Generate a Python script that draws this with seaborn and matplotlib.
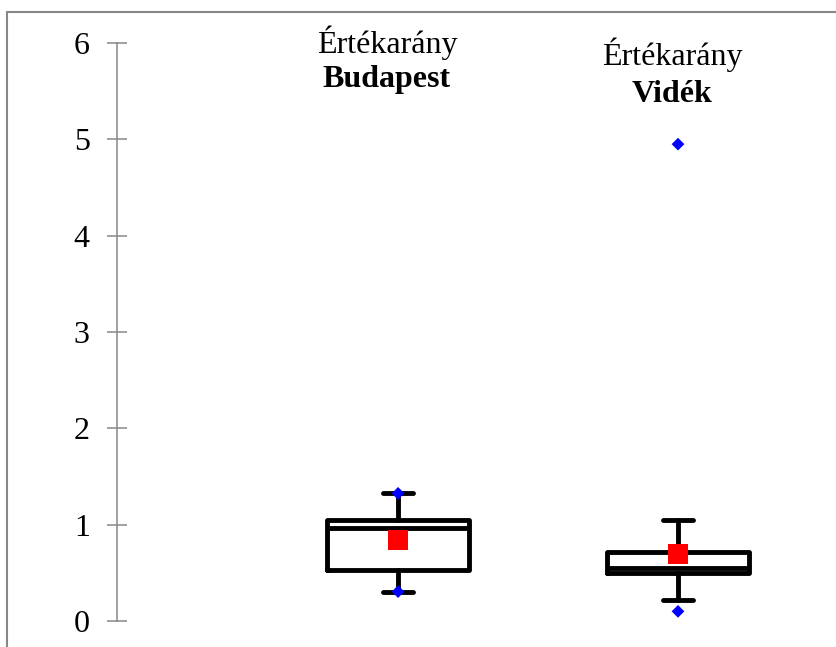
import numpy as np
import pandas as pd
import seaborn as sns
import matplotlib
matplotlib.use("Agg")
import matplotlib.pyplot as plt
from matplotlib.lines import Line2D

# ---- data ----
groups = ["Budapest", "Vidék"]
q1 = [0.53, 0.50]
median = [0.965, 0.545]
q3 = [1.045, 0.72]
whisker_low = [0.305, 0.22]
whisker_high = [1.325, 1.05]
means = [0.84, 0.70]
point_groups = ["Budapest", "Budapest", "Vidék", "Vidék"]
point_values = [0.305, 1.325, 0.10, 4.95]
yticks = [0, 1, 2, 3, 4, 5, 6]
title_top = "Értékarány"

sns.set_theme(style="white")
plt.rcParams["font.family"] = ["Liberation Serif", "DejaVu Serif"]

W, H = 837, 647
fig = plt.figure(figsize=(W / 100, H / 100), dpi=100)
ax = fig.add_axes([117 / W, 1 - 621 / H, 1 - 117 / W, (621 - 43) / H])

stats = [
    dict(q1=a, med=m, q3=b, whislo=lo, whishi=hi, fliers=[], label=g)
    for g, a, m, b, lo, hi in zip(groups, q1, median, q3, whisker_low, whisker_high)
]
lw = 3.5
ax.bxp(
    stats,
    positions=list(range(len(groups))),
    widths=0.51,
    capwidths=0.107,
    showfliers=False,
    boxprops=dict(color="black", lw=lw, solid_joinstyle="round"),
    medianprops=dict(color="black", lw=lw, solid_capstyle="butt"),
    whiskerprops=dict(color="black", lw=lw),
    capprops=dict(color="black", lw=lw, solid_capstyle="round"),
)

pts = pd.DataFrame({"group": point_groups, "value": point_values})
sns.scatterplot(data=pts, x="group", y="value", marker="D", s=42, color="#0000ff",
                edgecolor="none", ax=ax, zorder=5, clip_on=False)
mean_df = pd.DataFrame({"group": groups, "value": means})
sns.scatterplot(data=mean_df, x="group", y="value", marker="s", s=207, color="#ff0000",
                edgecolor="none", ax=ax, zorder=6, clip_on=False)

ax.set_xlim(-1.004, 1.568)
ax.set_ylim(0, 6)
ax.set_yticks(yticks)
ax.set_xticks([])
ax.set_xlabel("")
ax.set_ylabel("")
for s in ["top", "right", "bottom"]:
    ax.spines[s].set_visible(False)
ax.spines["left"].set_color("#888888")
ax.spines["left"].set_linewidth(1.1)
ax.tick_params(axis="y", direction="inout", length=14, width=1.1, color="#888888",
               pad=12.6, labelsize=23, labelcolor="black", left=True)
ax.patch.set_alpha(0)

# category labels above the boxes
label_pos = [(-0.04, 5.90, 5.54), (0.98, 5.77, 5.39)]
for g, (x, y1, y2) in zip(groups, label_pos):
    ax.text(x, y1, title_top, ha="center", va="baseline", fontsize=23, color="black")
    ax.text(x, y2, g, ha="center", va="baseline", fontsize=23, fontweight="bold", color="black")

# frame lines (top and left) of the chart area
fig.add_artist(Line2D([7 / W, 1], [1 - 12 / H] * 2, transform=fig.transFigure, color="#888888", lw=1.5))
fig.add_artist(Line2D([7 / W] * 2, [1 - 12 / H, 0], transform=fig.transFigure, color="#888888", lw=1.5))

fig.savefig("out.png", dpi=100, facecolor="white")
